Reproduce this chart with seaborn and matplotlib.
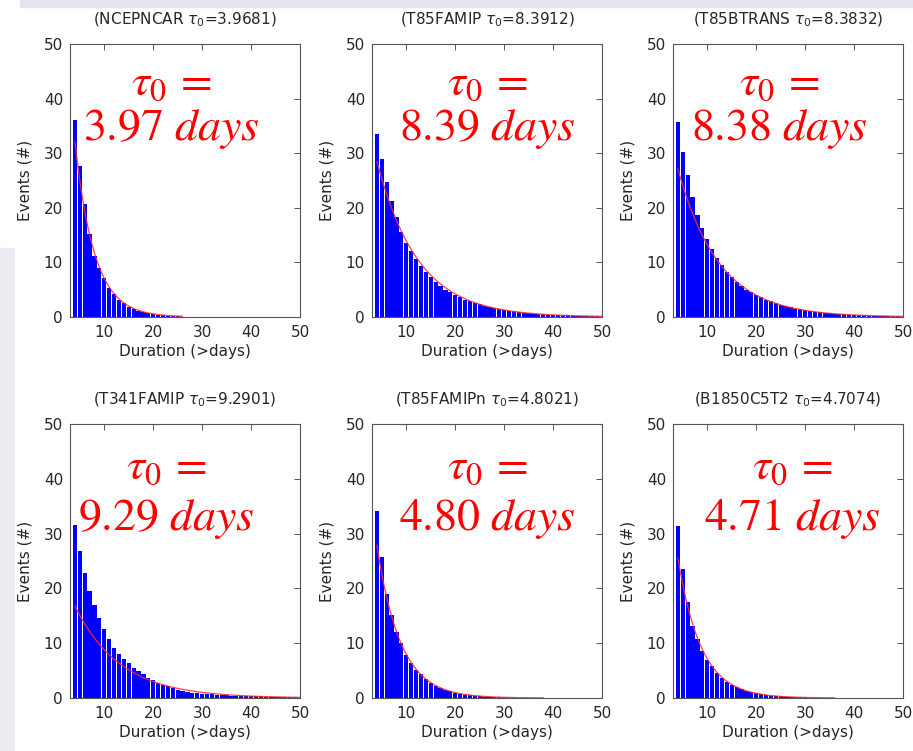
import numpy as np
import matplotlib
matplotlib.use('Agg')
import matplotlib.pyplot as plt
from matplotlib.patches import Rectangle
import seaborn as sns

# duration bins (>days)
days = np.arange(4, 50)

runs = ['NCEPNCAR', 'T85FAMIP', 'T85BTRANS', 'T341FAMIP', 'T85FAMIPn', 'B1850C5T2']
tau0 = [3.9681, 8.3912, 8.3832, 9.2901, 4.8021, 4.7074]
# height of the fitted exponential at 4 days
fit_start = [32.2, 28.5, 27.1, 16.8, 27.9, 25.6]

# event counts per duration bin
ncepncar = [36.1, 27.6, 20.7, 15.2, 11.2, 8.9, 7.1, 5.3, 4.2, 3.2, 2.5, 1.9, 1.5, 1.15,
            0.9, 0.7, 0.55, 0.42, 0.32, 0.25, 0.19, 0.14,
            0, 0, 0, 0, 0, 0, 0, 0, 0, 0, 0, 0, 0, 0, 0, 0, 0, 0, 0, 0, 0, 0, 0, 0]
t85famip = [33.6, 29.0, 24.7, 21.2, 18.3, 15.6, 13.6, 12.0, 10.6, 9.4, 8.3, 7.3, 6.4, 5.7,
            5.0, 4.5, 4.0,
            3.6, 3.2, 2.85, 2.55, 2.3, 2.05, 1.8, 1.6, 1.45, 1.3, 1.15, 1.02, 0.9, 0.8,
            0.72, 0.64, 0.57, 0.5, 0.45, 0.4, 0.36, 0.32, 0.28, 0.25, 0.22, 0.2, 0.18,
            0.16, 0.14]
t85btrans = [35.7, 30.2, 26.0, 22.0, 18.7, 16.3, 14.2, 12.4, 10.8, 9.5, 8.3, 7.3, 6.4, 5.7,
             5.0, 4.5, 4.0,
             3.6, 3.2, 2.85, 2.55, 2.25, 2.0, 1.75, 1.55, 1.4, 1.25, 1.1, 0.98, 0.87, 0.77,
             0.68, 0.6, 0.53, 0.47, 0.42, 0.37, 0.33, 0.29, 0.26, 0.23, 0.2, 0.18, 0.16,
             0.14, 0.12]
t341famip = [31.5, 26.8, 22.9, 19.5, 16.9, 14.6, 12.6, 10.7, 9.1, 8.1, 7.1, 6.3, 5.5, 4.9,
             4.3, 3.7, 3.2, 2.7, 2.4, 2.1, 1.8, 1.5, 1.3, 1.1,
             1.0, 0.9, 0.8, 0.7, 0.65, 0.6, 0.55, 0.5, 0.45, 0.4, 0.38, 0.35, 0.32, 0.3,
             0.28, 0.25, 0.22, 0.2, 0.18, 0.15, 0.12, 0.1]
t85famipn = [34.1, 25.7, 19.0, 15.1, 12.0, 10.1, 7.9, 6.4, 5.2, 4.3, 3.5, 2.7, 2.2,
             1.8, 1.45, 1.2, 0.95, 0.78, 0.62, 0.5, 0.4, 0.33, 0.27, 0.22, 0.18, 0.14,
             0.11, 0.09, 0.07, 0.06, 0.05, 0.04, 0.03, 0.02,
             0, 0, 0, 0, 0, 0, 0, 0, 0, 0, 0, 0]
b1850c5t2 = [31.4, 23.6, 17.6, 13.1, 10.7, 8.5, 7.0, 5.8, 4.6, 3.7, 3.0, 2.4, 2.0,
             1.6, 1.3, 1.05, 0.85, 0.68, 0.55, 0.45, 0.36, 0.29, 0.23, 0.19, 0.15, 0.12,
             0.1, 0.08, 0.06, 0.05, 0.04, 0.03,
             0, 0, 0, 0, 0, 0, 0, 0, 0, 0, 0, 0, 0, 0]
counts = [ncepncar, t85famip, t85btrans, t341famip, t85famipn, b1850c5t2]

sns.set_theme(style='white')
plt.rcParams['font.family'] = ['DejaVu Sans']

fig = plt.figure(figsize=(9.13, 7.51), dpi=100)

# slide background bits around the figure
fig.patches.append(Rectangle((20 / 913, 1 - 7 / 751), 1, 7 / 751, transform=fig.transFigure,
                             color='#e4e4ec', zorder=0))
fig.patches.append(Rectangle((0, 0), 14 / 913, 1 - 248 / 751, transform=fig.transFigure,
                             color='#ececf2', zorder=0))

lefts = [70, 372, 673]
label_x = [0.44, 0.50, 0.46, 0.42, 0.50, 0.52]
txt = '#262626'
fs = 11

for i in range(6):
    row, col = divmod(i, 3)
    if row == 0:
        rect = [lefts[col] / 913, 1 - 317 / 751, 230 / 913, 273 / 751]
        y1, y2 = 0.815, 0.648
    else:
        rect = [lefts[col] / 913, 1 - 698 / 751, 230 / 913, 274 / 751]
        y1, y2 = 0.798, 0.613
    ax = fig.add_axes(rect)

    sns.histplot(x=days, weights=counts[i], discrete=True, shrink=0.86, color='#0000ff',
                 alpha=1, edgecolor='none', linewidth=0, ax=ax)
    nz = np.nonzero(counts[i])[0]
    end = min(days[nz[-1]] + 1, 50)
    xs = np.linspace(4, end, 200)
    sns.lineplot(x=xs, y=fit_start[i] * np.exp(-(xs - 4) / tau0[i]), color='#ff2a2a',
                 linewidth=0.9, alpha=0.9, estimator=None, ax=ax)

    ax.set_xlim(3, 50)
    ax.set_ylim(0, 50)
    ax.set_xticks([10, 20, 30, 40, 50])
    ax.set_yticks([0, 10, 20, 30, 40, 50])
    ax.tick_params(direction='in', top=True, right=True, length=4, width=0.7,
                   labelsize=fs, colors='#555555', labelcolor=txt)
    ax.tick_params(axis='x', pad=6)
    ax.tick_params(axis='y', pad=5)
    for s in ax.spines.values():
        s.set_color('#555555')
        s.set_linewidth(0.8)
    ax.set_xlabel('Duration (>days)', fontsize=fs, color=txt, labelpad=3)
    ax.set_ylabel('Events (#)', fontsize=fs, color=txt, labelpad=8)
    ax.set_title(f'({runs[i]} $\\tau_0$={tau0[i]:.4f})', fontsize=fs, color=txt, pad=14,
                 math_fontfamily='dejavusans')

    ax.text(label_x[i], y1, r'$\tau_0\,=$', transform=ax.transAxes, ha='center',
            va='baseline', fontsize=33, color='#ff0000', math_fontfamily='stix')
    ax.text(label_x[i], y2, f'${tau0[i]:.2f}\\ \\mathit{{days}}$', transform=ax.transAxes,
            ha='center', va='baseline', fontsize=33, color='#ff0000',
            math_fontfamily='stix')

fig.savefig('out.png', dpi=100)
